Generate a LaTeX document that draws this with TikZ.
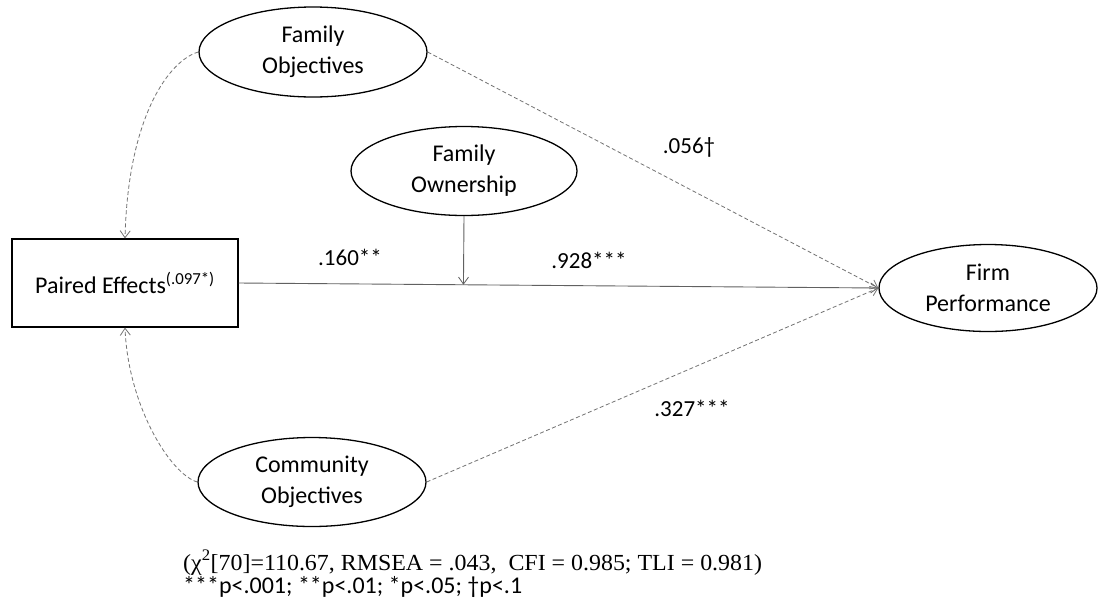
\documentclass[tikz,border=0pt]{standalone}
\usepackage{fontspec}
\setmainfont{Carlito}
\newfontfamily\tnr{Liberation Serif}
\usetikzlibrary{shapes.geometric,arrows.meta,calc}
\tikzset{
  lat/.style={ellipse,draw=black,line width=1.3pt,inner sep=0pt,align=center,
    font=\fontsize{24}{31}\selectfont},
  obs/.style={rectangle,draw=black,line width=1.2pt,inner sep=0pt,align=center,
    font=\fontsize{24}{31}\selectfont},
  coef/.style={inner sep=0pt,font=\fontsize{23}{28}\selectfont},
  tip/.style={-{Straight Barb[length=7pt,width=10pt,line width=0.8pt]}},
  solidpath/.style={draw=black!62,line width=0.9pt,tip},
  dashpath/.style={draw=black!55,line width=0.8pt,dash pattern=on 4pt off 2.5pt,tip}
}
\begin{document}
\begin{tikzpicture}[x=1pt,y=-1pt]
\useasboundingbox[fill=white] (0,0) rectangle (1099,611);
\node[lat,minimum width=228pt,minimum height=90pt] (FO) at (313,52) {Family\\Objectives};
\node[lat,minimum width=226pt,minimum height=89pt] (FOwn) at (464,171) {Family\\Ownership};
\node[lat,minimum width=228pt,minimum height=89pt] (CO) at (312,482) {Community\\Objectives};
\node[lat,minimum width=218pt,minimum height=87pt] (FP) at (988,288) {Firm\\Performance};
\node[obs,minimum width=226pt,minimum height=88pt] (PE) at (125,283) {Paired Effects\textsuperscript{(.097*)}};

\draw[solidpath] (PE.east) -- (FP.west);
\coordinate (m) at ($(PE.east)!(FOwn.south)!(FP.west)$);
\draw[solidpath] (FOwn.south) -- (m);
\draw[dashpath] (FO.east) -- (FP.west);
\draw[dashpath] (CO.east) -- (FP.west);
\draw[dashpath] (FO.west) .. controls (170,60) and (128,115) .. (PE.north);
\draw[dashpath] (CO.west) .. controls (170,474) and (128,405) .. (PE.south);

\node[coef] (l1) at (689,147) {.056†};
\node[coef] (l2) at (350,257) {.160**};
\node[coef] (l3) at (589,260) {.928***};
\node[coef] (l4) at (692,408) {.327***};

\node[inner sep=0pt,anchor=base west,font=\tnr\fontsize{23}{26}\selectfont] (fit) at (183,570)
  {\scalebox{1.04}[1]{(χ\textsuperscript{2}[70]=110.67, RMSEA = .043,\ \ CFI = 0.985; TLI = 0.981)}};
\node[inner sep=0pt,anchor=base west,font=\fontsize{24}{28}\selectfont] (sig) at (183,593)
  {***p<.001; **p<.01; *p<.05; †p<.1};
\end{tikzpicture}
\end{document}
